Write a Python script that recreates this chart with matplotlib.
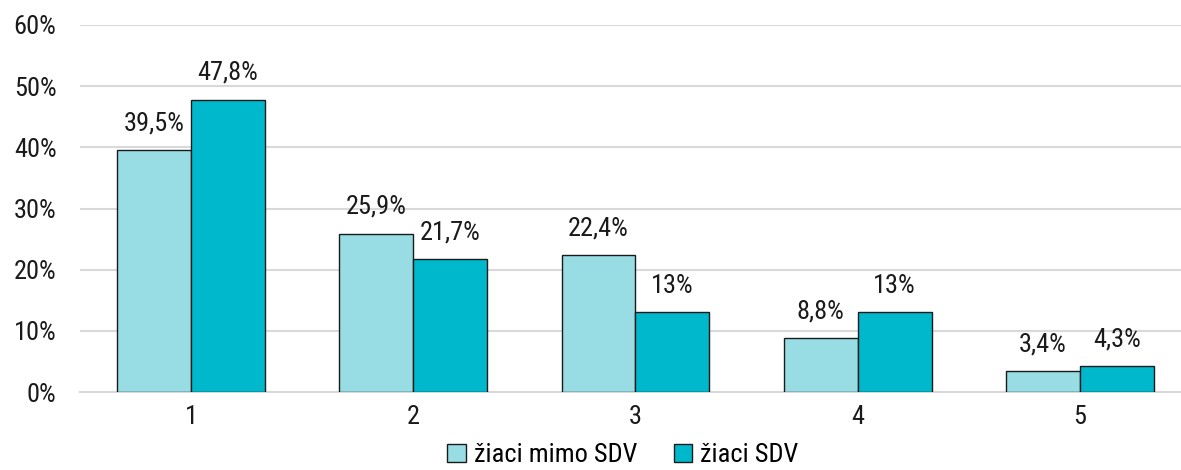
import matplotlib.pyplot as plt
import numpy as np

categories = ["1", "2", "3", "4", "5"]
mimo_sdv = [39.5, 25.9, 22.4, 8.8, 3.4]
sdv = [47.8, 21.7, 13.0, 13.0, 4.3]
labels_mimo = ["39,5%", "25,9%", "22,4%", "8,8%", "3,4%"]
labels_sdv = ["47,8%", "21,7%", "13%", "13%", "4,3%"]
yticks = [0, 10, 20, 30, 40, 50, 60]

plt.rcParams['font.family'] = ['Roboto Condensed', 'Liberation Sans Narrow', 'Roboto', 'DejaVu Sans']

fig = plt.figure(figsize=(11.81, 4.70), dpi=100)
ax = fig.add_axes([80 / 1181, 1 - 392 / 470, 1 - 80 / 1181, 367 / 470])

x = np.arange(1, len(categories) + 1)
w = 0.333
b1 = ax.bar(x - w / 2, mimo_sdv, w, color="#97DDE3", edgecolor="#1a1a1a", linewidth=1, label="žiaci mimo SDV", zorder=3)
b2 = ax.bar(x + w / 2, sdv, w, color="#00B8CC", edgecolor="#1a1a1a", linewidth=1, label="žiaci SDV", zorder=3)

for rect, lab in zip(b1, labels_mimo):
    ax.text(rect.get_x() + rect.get_width() / 2, rect.get_height() + 2.4, lab,
            ha="center", va="bottom", fontsize=19, color="#1a1a1a")
for rect, lab in zip(b2, labels_sdv):
    ax.text(rect.get_x() + rect.get_width() / 2, rect.get_height() + 2.4, lab,
            ha="center", va="bottom", fontsize=19, color="#1a1a1a")

ax.set_xlim(0.5, 5.455)
ax.set_ylim(0, 60)
ax.set_yticks(yticks)
ax.set_yticklabels([f"{t}%" for t in yticks])
ax.set_xticks(x)
ax.set_xticklabels(categories)
ax.tick_params(axis="both", length=0, labelsize=19, colors="#1a1a1a")
ax.tick_params(axis="y", pad=17)
ax.tick_params(axis="x", pad=9)
ax.grid(axis="y", color="#D9D9D9", linewidth=1.5, zorder=0)
for s in ["top", "right", "left"]:
    ax.spines[s].set_visible(False)
ax.spines["bottom"].set_color("#D9D9D9")
ax.spines["bottom"].set_linewidth(1.5)

ax.legend(loc="center", bbox_to_anchor=(0.493, -0.172), ncol=2, frameon=False, fontsize=19,
          handlelength=0.7, handleheight=0.7, handletextpad=0.3, columnspacing=1.4,
          borderpad=0, bbox_transform=ax.transAxes)

fig.savefig("out.png", dpi=100)
